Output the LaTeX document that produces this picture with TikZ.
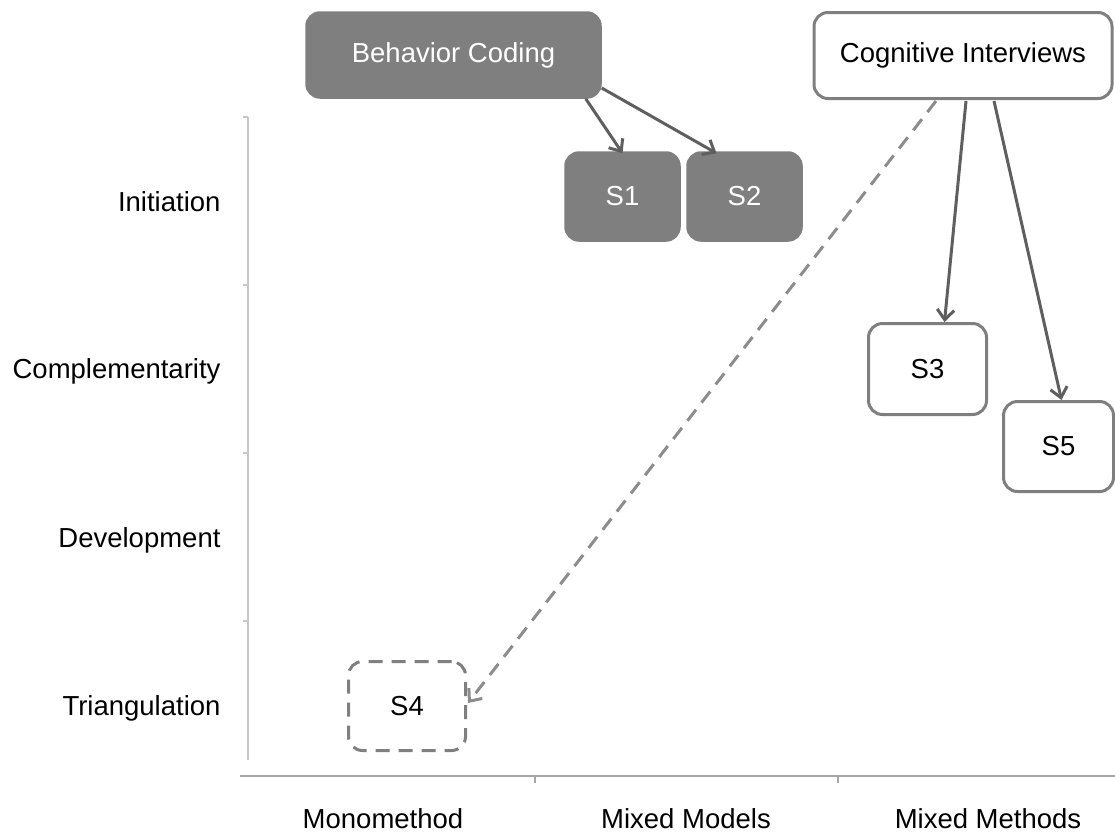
\documentclass[tikz,border=0pt]{standalone}
\usepackage{fontspec}
\setmainfont{Liberation Sans}
\usetikzlibrary{arrows.meta,calc}
\definecolor{boxgray}{HTML}{7F7F7F}
\definecolor{linegray}{HTML}{5F5F5F}
\definecolor{axisgray}{HTML}{C8C8C8}
\definecolor{haxis}{HTML}{A6A6A6}
\definecolor{dashgray}{HTML}{8C8C8C}
\begin{document}
\begin{tikzpicture}[x=1pt,y=-1pt,
  every node/.style={font=\fontsize{27.5}{32}\selectfont},
  darkbox/.style={draw=boxgray,fill=boxgray,rounded corners=14pt,line width=1.5pt,text=white,inner sep=0pt},
  lightbox/.style={draw=boxgray,fill=white,rounded corners=14pt,line width=3pt,text=black,inner sep=0pt},
  dashbox/.style={draw=boxgray,fill=white,rounded corners=14pt,line width=3pt,dash pattern=on 14pt off 9pt,text=black,inner sep=0pt},
  conn/.style={draw=linegray,line width=3pt,-{Straight Barb[length=10pt,width=17pt,line width=3pt]}},
  dconn/.style={draw=dashgray,line width=3pt,dash pattern=on 14pt off 9pt,-{Straight Barb[length=10pt,width=17pt,line width=3pt]}},
  ylab/.style={anchor=east,text=black},
  xlab/.style={anchor=center,text=black},
  axisv/.style={draw=axisgray,line width=1.5pt},
  axish/.style={draw=haxis,line width=2pt}]
\useasboundingbox (0,0) rectangle (1115,835);
% axes
\coordinate (vtop) at (248,117);
\coordinate (vbot) at (248,760);
\draw[axisv] (vtop) -- (vbot);
\foreach \yy in {117,285,453,621} \draw[axisv] (243,\yy) -- (248,\yy);
\coordinate (hl) at (240,776);
\coordinate (hr) at (1115,776);
\draw[axish] (hl) -- (hr);
\foreach \xx in {535,838} \draw[axish] (\xx,776) -- (\xx,783);
% axis labels
\node[ylab] (l1) at (224,202) {Initiation};
\node[ylab] (l2) at (224,371) {Complementarity};
\node[ylab] (l3) at (224,540) {Development};
\node[ylab] (l4) at (224,708) {Triangulation};
\node[xlab] (b1) at (383,819) {Monomethod};
\node[xlab] (b2) at (686,819) {Mixed Models};
\node[xlab] (b3) at (988,819) {Mixed Methods};
% boxes
\node[darkbox,minimum width=295pt,minimum height=86pt] (bc) at (453.5,55) {Behavior Coding};
\node[lightbox,minimum width=298pt,minimum height=86pt] (ci) at (963,55.5) {Cognitive Interviews};
\node[darkbox,minimum width=115pt,minimum height=89pt] (s1) at (622.5,196.5) {S1};
\node[darkbox,minimum width=115pt,minimum height=89pt] (s2) at (744.5,196.5) {S2};
\node[lightbox,minimum width=118pt,minimum height=91pt] (s3) at (927.5,369) {S3};
\node[lightbox,minimum width=110pt,minimum height=90pt] (s5) at (1058.5,446.5) {S5};
\node[dashbox,minimum width=117pt,minimum height=89pt] (s4) at (407,706) {S4};
% connectors
\draw[conn] ($(bc.south east)+(-16,0)$) -- ($(s1.north)+(0,2)$);
\draw[conn] ($(bc.east)+(0,33)$) -- ($(s2.north)+(-28,2)$);
\draw[conn] ($(ci.south)+(3,1)$) -- ($(s3.north)+(17,0)$);
\draw[conn] ($(ci.south)+(31,1)$) -- ($(s5.north)+(3,0)$);
\draw[dconn] ($(ci.south)+(-27,1)$) -- ($(s4.east)+(1,-3)$);
\end{tikzpicture}
\end{document}
